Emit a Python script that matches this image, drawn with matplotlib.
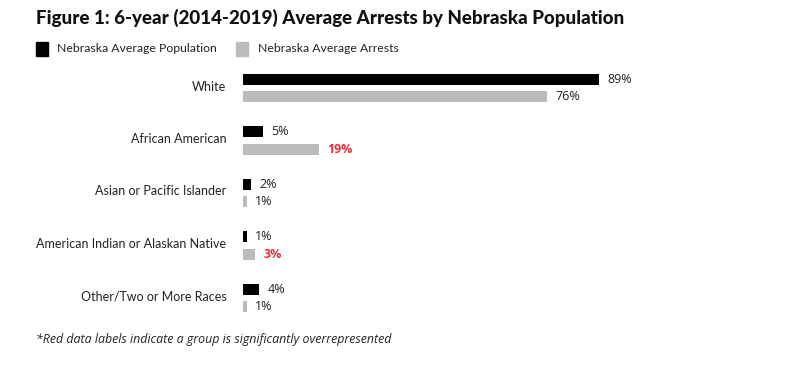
import matplotlib.pyplot as plt
from matplotlib.patches import Rectangle

categories = ['White', 'African American', 'Asian or Pacific Islander',
              'American Indian or Alaskan Native', 'Other/Two or More Races']
population = [89, 5, 2, 1, 4]
arrests = [76, 19, 1, 3, 1]
# arrests labels shown in red where the group is overrepresented
overrep = [False, True, False, True, False]

BLACK = '#000000'
GRAY = '#bbbbbb'
RED = '#e8303a'
TEXT = '#222222'

fig = plt.figure(figsize=(7.89, 3.65), dpi=100)
ax = fig.add_axes([243 / 789, 1 - 324 / 365, 400 / 789, 262 / 365])

y = list(range(len(categories)))
off = 0.165
h = 0.21
ax.barh([v - off for v in y], population, height=h, color=BLACK)
ax.barh([v + off for v in y], arrests, height=h, color=GRAY)

for i in y:
    ax.annotate(f'{population[i]}%', (population[i], i - off), xytext=(6, 0),
                textcoords='offset points', va='center', ha='left',
                fontsize=9, color=TEXT, family='Open Sans')
    ax.annotate(f'{arrests[i]}%', (arrests[i], i + off), xytext=(6, 0),
                textcoords='offset points', va='center', ha='left',
                fontsize=9, family='Open Sans',
                color=RED if overrep[i] else TEXT,
                fontweight='bold' if overrep[i] else 'normal')

ax.set_xlim(0, 100)
ax.set_ylim(4.5, -0.5)
ax.set_yticks([v - 0.05 for v in y])
ax.set_yticklabels(categories, family='Lato', fontsize=9, color=TEXT)
ax.tick_params(axis='y', length=0, pad=12)
ax.set_xticks([])
for s in ax.spines.values():
    s.set_visible(False)

fig.text(36 / 789, 1 - 18 / 365, 'Figure 1: 6-year (2014-2019) Average Arrests by Nebraska Population',
         fontsize=13.5, fontweight='black', family='Lato', va='center', ha='left', color='#111111')

# legend
fig.patches.append(Rectangle((36 / 789, 1 - 56 / 365), 12 / 789, 14 / 365,
                             transform=fig.transFigure, color=BLACK))
fig.text(57 / 789, 1 - 48 / 365, 'Nebraska Average Population', fontsize=8.8,
         family='Lato', va='center', color=TEXT)
fig.patches.append(Rectangle((236 / 789, 1 - 56 / 365), 12 / 789, 14 / 365,
                             transform=fig.transFigure, color=GRAY))
fig.text(258 / 789, 1 - 48 / 365, 'Nebraska Average Arrests', fontsize=8.8,
         family='Lato', va='center', color=TEXT)

fig.text(36 / 789, 1 - 339 / 365,
         '*Red data labels indicate a group is significantly overrepresented',
         fontsize=8.9, style='italic', family='Open Sans', va='center', color=TEXT)

fig.savefig('out.png', dpi=100)
